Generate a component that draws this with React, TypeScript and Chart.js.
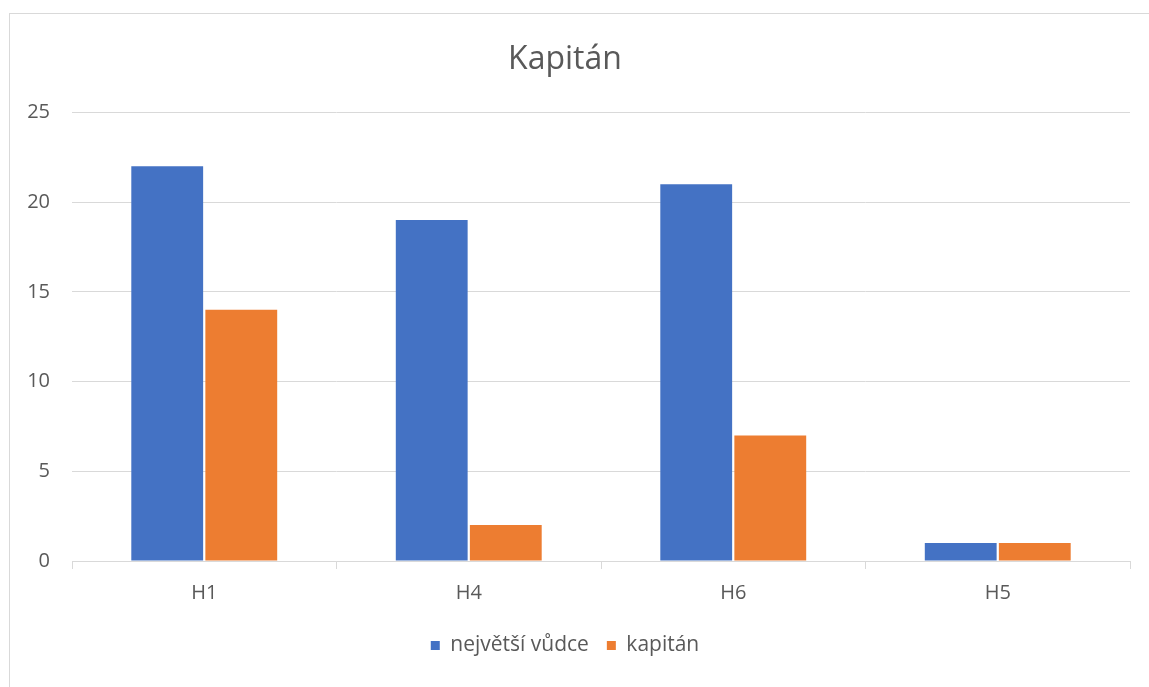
import React, { useEffect, useRef } from "react";
import { Chart, registerables } from "chart.js";

Chart.register(...registerables);

const categories = ["H1", "H4", "H6", "H5"];
const nejvetsiVudce = [22, 19, 21, 1];
const kapitan = [14, 2, 7, 1];
const yTicks = [0, 5, 10, 15, 20, 25];

const FONT = "'Open Sans', 'Liberation Sans', sans-serif";
const TEXT = "#595959";
const GRID = "#d9d9d9";

export default function App() {
  const ref = useRef<HTMLCanvasElement | null>(null);

  useEffect(() => {
    if (!ref.current) return;
    const chart = new Chart(ref.current, {
      type: "bar",
      data: {
        labels: categories,
        datasets: [
          {
            label: "největší vůdce",
            data: nejvetsiVudce,
            backgroundColor: "#4472C4",
            borderWidth: 0,
          },
          {
            label: "kapitán",
            data: kapitan,
            backgroundColor: "#ED7D31",
            borderWidth: 0,
          },
        ],
      },
      options: {
        responsive: false,
        animation: false,
        layout: { padding: { left: 0, right: 19, top: 0, bottom: 21 } },
        datasets: {
          bar: { categoryPercentage: 0.56, barPercentage: 0.97 },
        },
        plugins: {
          title: {
            display: true,
            text: "Kapitán",
            color: TEXT,
            font: { family: FONT, size: 32, weight: "normal" },
            padding: { top: 41, bottom: 33 },
          },
          legend: {
            position: "bottom",
            labels: {
              color: TEXT,
              font: { family: FONT, size: 21 },
              boxWidth: 9,
              boxHeight: 9,
              padding: 18,
            },
          },
          tooltip: { enabled: false },
        },
        scales: {
          x: {
            grid: {
              display: true,
              offset: true,
              drawOnChartArea: false,
              drawTicks: true,
              tickLength: 8,
              color: GRID,
            },
            border: { display: true, color: GRID, width: 1 },
            ticks: {
              color: TEXT,
              font: { family: FONT, size: 20 },
              padding: 12,
            },
          },
          y: {
            min: yTicks[0],
            max: yTicks[yTicks.length - 1],
            afterBuildTicks: (scale: any) => {
              scale.ticks = yTicks.map((v) => ({ value: v }));
            },
            afterFit: (scale: any) => {
              scale.width = 72;
            },
            grid: { color: GRID, drawTicks: false, lineWidth: 1 },
            border: { display: false },
            ticks: {
              color: TEXT,
              font: { family: FONT, size: 20 },
              padding: 22,
            },
          },
        },
      },
    });
    return () => chart.destroy();
  }, []);

  return (
    <div
      style={{
        position: "fixed",
        left: 0,
        top: 0,
        width: 1149,
        height: 687,
        overflow: "hidden",
        background: "#ffffff",
      }}
    >
      <div
        style={{
          position: "absolute",
          left: 9,
          top: 13,
          width: 1160,
          height: 700,
          border: "1px solid #d9d9d9",
          boxSizing: "border-box",
        }}
      />
      <canvas
        ref={ref}
        width={1149}
        height={687}
        style={{ position: "absolute", left: 0, top: 0, width: 1149, height: 687 }}
      />
    </div>
  );
}
